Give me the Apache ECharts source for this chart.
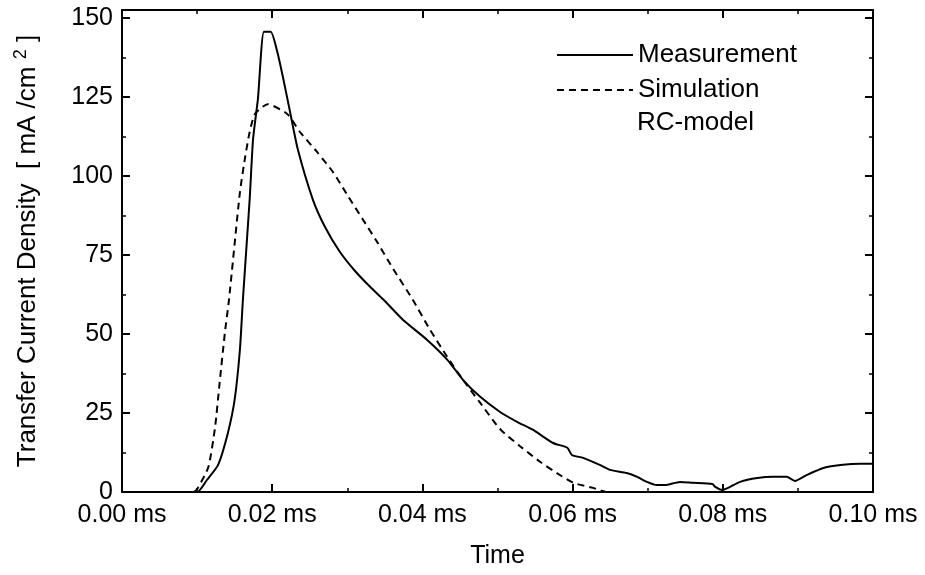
<!DOCTYPE html>
<html>
<head>
<meta charset="utf-8">
<script src="https://cdn.jsdelivr.net/npm/echarts@6/dist/echarts.min.js"></script>
<style>
  html, body { margin: 0; padding: 0; background: #fff; }
  #chart { width: 925px; height: 575px; }
</style>
</head>
<body>
<div id="chart"></div>
<script>
// time in ms, current density in mA/cm^2
var measTime = [0, 0.0100, 0.0113, 0.0128, 0.0141, 0.0150, 0.0157, 0.0161, 0.0170, 0.01745, 0.0181,
  0.0189, 0.0198, 0.0206, 0.0214, 0.0224, 0.0234, 0.0254, 0.0270, 0.0290, 0.0310, 0.0330, 0.0348,
  0.0374, 0.0406, 0.0433, 0.0454, 0.0477, 0.0503, 0.0526, 0.0547, 0.0574, 0.0593, 0.0599, 0.0614,
  0.0636, 0.0650, 0.0672, 0.0686, 0.0699, 0.0712, 0.0723, 0.0743, 0.0760, 0.0786, 0.0790, 0.0799,
  0.0807, 0.0823, 0.0846, 0.0867, 0.0885, 0.0896, 0.0912, 0.0934, 0.0960, 0.0983, 0.1000];
var measValue = [0, 0, 3.8, 8.6, 18.7, 29.2, 45, 60.9, 92.6, 111.6, 124.4,
  145.6, 145.6, 140, 131.6, 120, 108.5, 92.6, 84, 76, 70, 65, 60.9,
  54.5, 48.2, 41.9, 35.5, 30.1, 25.4, 22.2, 19.7, 15.5, 14, 11.7, 10.8,
  8.6, 7, 6, 4.8, 3.2, 2.2, 2.2, 3.2, 2.9, 2.5, 1.6, 0.6,
  1.3, 3.2, 4.4, 4.8, 4.8, 3.5, 5.4, 7.6, 8.6, 8.9, 8.9];

var simTime = [0, 0.0095, 0.0101, 0.0115, 0.0124, 0.0130, 0.0137, 0.01425, 0.0157, 0.0164, 0.0170,
  0.0177, 0.0194, 0.0220, 0.0237, 0.0260, 0.0281, 0.0301, 0.0320, 0.0340, 0.0360, 0.0387, 0.0410,
  0.0433, 0.0454, 0.0477, 0.0503, 0.0530, 0.0557, 0.0579, 0.0601, 0.0627, 0.0645, 0.0650];
var simValue = [0, 0, 1.3, 7.9, 20.6, 34.6, 50.4, 60.9, 94.8, 106, 113.9,
  119.6, 122.7, 119.6, 113.9, 107.5, 101.2, 93.6, 86.5, 79, 71, 60.9, 51.4,
  42.8, 35.5, 28.2, 20, 14.5, 9.5, 6, 2.9, 1.3, 0, 0];

var xTicks = [0, 0.02, 0.04, 0.06, 0.08, 0.10];
var yTicks = [0, 25, 50, 75, 100, 125, 150];

function pairs(xs, ys) {
  return xs.map(function (x, i) { return [x, ys[i]]; });
}

var font = 'Liberation Sans, Arial, sans-serif';
var chart = echarts.init(document.getElementById('chart'));

var axisLine = { show: true, onZero: false, lineStyle: { color: '#000', width: 2 } };
var tick = { show: true, inside: true, length: 8, lineStyle: { color: '#000', width: 2 } };
var minor = { show: true, splitNumber: 2, length: 4, lineStyle: { color: '#000', width: 1.5 } };

chart.setOption({
  animation: false,
  grid: { left: 122, right: 52, top: 10, bottom: 83 },
  legend: {
    orient: 'vertical',
    left: 556,
    top: 40,
    padding: 0,
    itemWidth: 76,
    itemHeight: 14,
    itemGap: 5,
    itemStyle: { opacity: 0 },
    textStyle: { fontFamily: font, fontSize: 26, color: '#000', lineHeight: 30 },
    data: ['Measurement', 'Simulation']
  },
  graphic: [{
    type: 'text',
    left: 637,
    top: 110,
    style: { text: 'RC-model', font: '26px ' + font, fill: '#000' }
  }],
  xAxis: [{
    type: 'value',
    min: xTicks[0],
    max: xTicks[xTicks.length - 1],
    interval: 0.02,
    name: 'Time',
    nameLocation: 'middle',
    nameGap: 52,
    nameTextStyle: { fontFamily: font, fontSize: 25, color: '#000' },
    axisLine: axisLine,
    axisTick: tick,
    minorTick: minor,
    splitLine: { show: false },
    axisLabel: {
      margin: 11,
      fontFamily: font, fontSize: 25, color: '#000',
      formatter: function (v) { return v.toFixed(2) + ' ms'; }
    }
  }, {
    type: 'value',
    position: 'top',
    min: xTicks[0],
    max: xTicks[xTicks.length - 1],
    interval: 0.02,
    axisLine: axisLine,
    axisTick: tick,
    minorTick: minor,
    splitLine: { show: false },
    axisLabel: { show: false }
  }],
  yAxis: [{
    type: 'value',
    min: yTicks[0],
    max: 152.5,
    interval: 25,
    name: 'Transfer Current Density  [ mA /cm {sup|2} ]',
    nameLocation: 'middle',
    nameGap: 78,
    nameTextStyle: {
      fontFamily: font, fontSize: 26, color: '#000',
      rich: { sup: { fontFamily: font, fontSize: 18, color: '#000', padding: [0, 0, 14, 0] } }
    },
    axisLine: axisLine,
    axisTick: tick,
    minorTick: minor,
    splitLine: { show: false },
    axisLabel: { margin: 9, fontFamily: font, fontSize: 25, color: '#000', showMaxLabel: false }
  }, {
    type: 'value',
    position: 'right',
    min: yTicks[0],
    max: 152.5,
    interval: 25,
    axisLine: axisLine,
    axisTick: tick,
    minorTick: minor,
    splitLine: { show: false },
    axisLabel: { show: false }
  }],
  series: [{
    name: 'Measurement',
    type: 'line',
    symbol: 'none',
    smooth: 0.2,
    data: pairs(measTime, measValue),
    lineStyle: { color: '#000', width: 2 },
    itemStyle: { color: '#000' }
  }, {
    name: 'Simulation',
    type: 'line',
    symbol: 'none',
    smooth: 0.2,
    data: pairs(simTime, simValue),
    lineStyle: { color: '#000', width: 2, type: [7, 5] },
    itemStyle: { color: '#000' }
  }]
});
</script>
</body>
</html>
